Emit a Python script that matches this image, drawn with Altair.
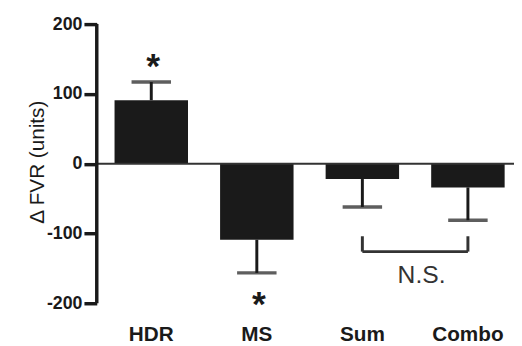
import altair as alt
import pandas as pd

groups = ["HDR", "MS", "Sum", "Combo"]
means = [91, -109, -22, -34]
err_ends = [117, -156.5, -62, -81]
y_ticks = [-200, -100, 0, 100, 200]
star_groups = ["HDR", "MS"]
star_values = [148, -193]
bracket_groups = ["Sum", "Combo"]
bracket_top = -104
bracket_bottom = -126
ns_label = "N.S."
ns_value = -160

FONT = "Liberation Sans"
INK = "#1a1a1a"
YTITLE = "Δ FVR (units)"

df = pd.DataFrame({"group": groups, "mean": means, "err": err_ends})
stars = pd.DataFrame({"group": star_groups, "v": star_values, "t": ["*", "*"]})
bracket = pd.DataFrame({"group": bracket_groups, "top": [bracket_top] * 2, "bot": [bracket_bottom] * 2})
bracket_h = pd.DataFrame({"g1": [bracket_groups[0]], "g2": [bracket_groups[1]], "bot": [bracket_bottom]})
ns = pd.DataFrame({"group": [bracket_groups[0]], "v": [ns_value], "t": [ns_label]})
zero = pd.DataFrame({"z": [0]})
yline = pd.DataFrame({"lo": [min(y_ticks)], "hi": [max(y_ticks)]})

xscale = alt.Scale(domain=groups, paddingInner=0.304, paddingOuter=0.1285, align=0.655)
yscale = alt.Scale(domain=[-200, 200])
xaxis = alt.Axis(labelAngle=0)
yaxis = alt.Axis(values=y_ticks, labelExpr="'' + datum.value")


def X(field):
    return alt.X(field, scale=xscale, sort=groups, axis=xaxis, title=None)


def Y(field):
    return alt.Y(field, scale=yscale, axis=yaxis, title=YTITLE)


bars = alt.Chart(df).mark_bar(color=INK).encode(x=X("group:N"), y=Y("mean:Q"))
stems = alt.Chart(df).mark_rule(color=INK, strokeWidth=3).encode(
    x=X("group:N"), y=Y("mean:Q"), y2="err:Q")
caps = alt.Chart(df).mark_tick(color=INK, thickness=3.5, size=40, orient="horizontal").encode(
    x=X("group:N"), y=Y("err:Q"))
zline = alt.Chart(zero).mark_rule(color="#333333", strokeWidth=2).encode(y=Y("z:Q"))
axis_line = alt.Chart(yline).mark_rule(color=INK, strokeWidth=3.5).encode(
    x=alt.value(0), y=Y("lo:Q"), y2="hi:Q")
star_text = alt.Chart(stars).mark_text(font=FONT, fontSize=36, fontWeight="bold", color=INK,
                                       baseline="middle", dx=2, dy=7).encode(
    x=X("group:N"), y=Y("v:Q"), text="t:N")
b_vert = alt.Chart(bracket).mark_rule(color="#333333", strokeWidth=3).encode(
    x=X("group:N"), y=Y("top:Q"), y2="bot:Q")
b_horiz = alt.Chart(bracket_h).mark_rule(color="#333333", strokeWidth=3).encode(
    x=X("g1:N"), x2="g2:N", y=Y("bot:Q"))
ns_text = alt.Chart(ns).mark_text(font=FONT, fontSize=25, color="#333333",
                                  baseline="middle", dx=60).encode(
    x=X("group:N"), y=Y("v:Q"), text="t:N")

chart = alt.layer(bars, stems, caps, zline, axis_line, b_vert, b_horiz, star_text, ns_text).properties(
    width=423, height=283,
    padding={"left": 90, "top": 14, "right": 0, "bottom": 41},
    autosize=alt.AutoSizeParams(type="none"),
).configure(
    background="white",
).configure_view(
    stroke=None,
).configure_axisX(
    domain=False, ticks=False, labelFontSize=21, labelFontWeight="bold",
    labelColor=INK, labelFont=FONT, labelPadding=21, grid=False,
).configure_axisY(
    grid=False, domain=False, tickColor=INK, tickWidth=3.5, tickSize=13, tickOffset=0,
    labelFontSize=18, labelFontWeight="bold", labelColor=INK, labelFont=FONT, labelPadding=2,
    titleFont=FONT, titleFontSize=21, titleFontWeight="normal", titleColor=INK,
    titleX=-54, titleY=139.5, titleBaseline="alphabetic", titleAngle=270,
)

chart.save("out.html", embed_options={"renderer": "svg", "actions": False})
